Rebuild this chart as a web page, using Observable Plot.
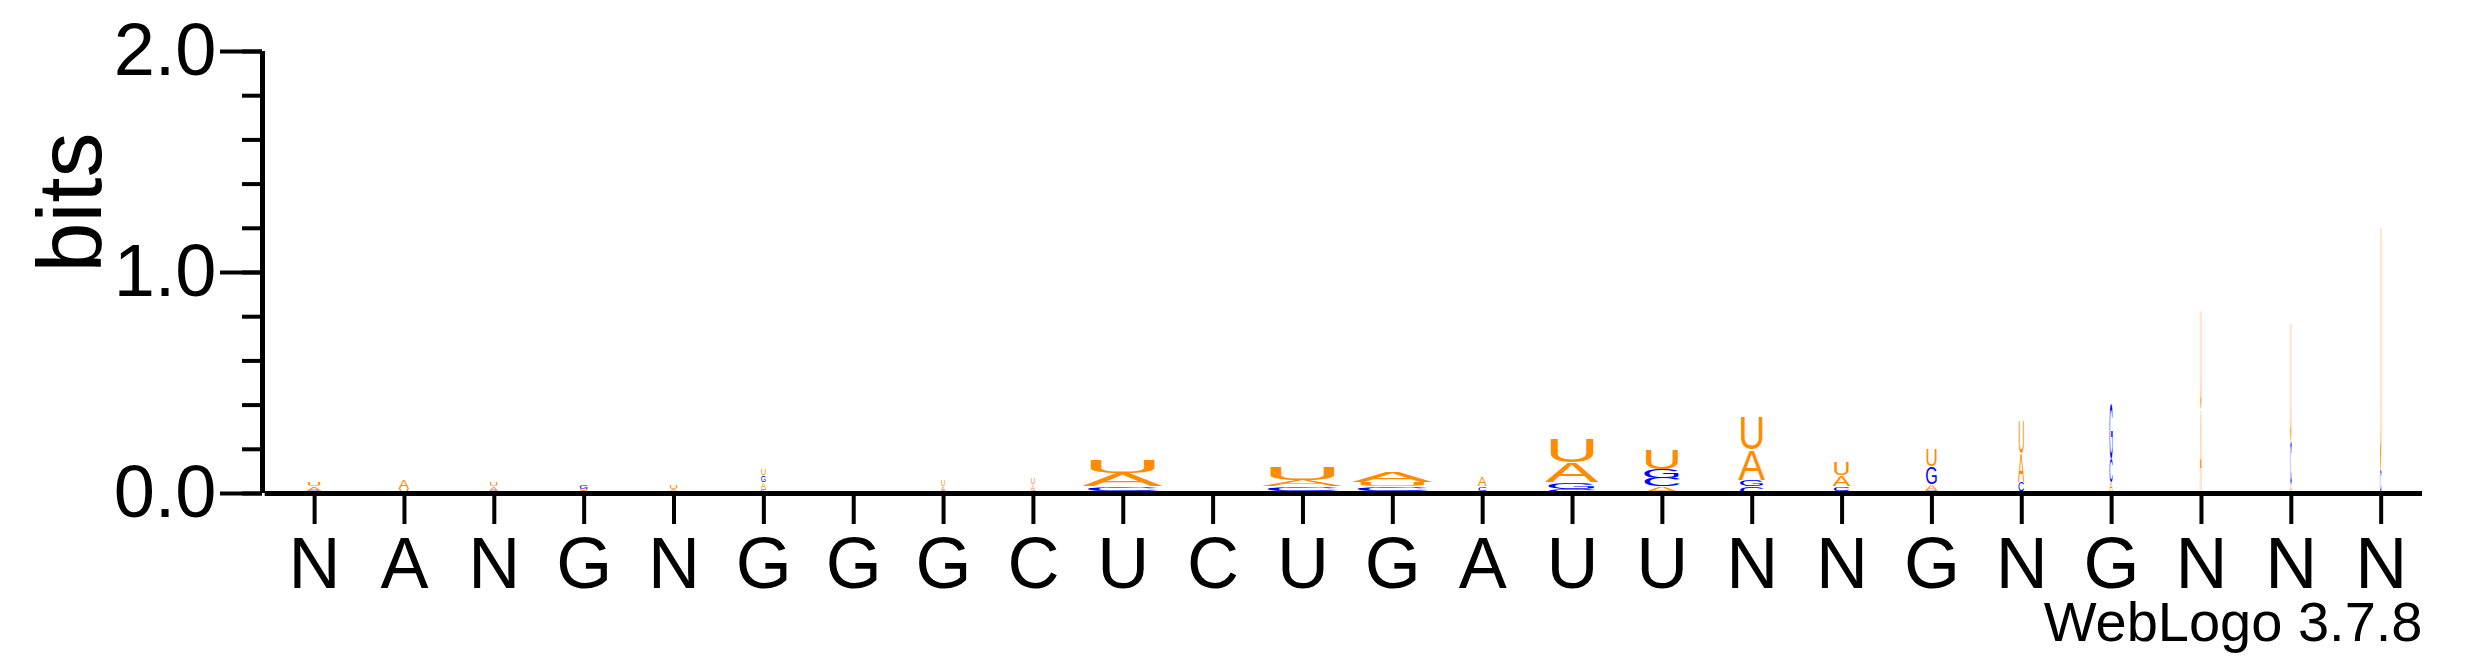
<!DOCTYPE html>
<html>
<head>
<meta charset="utf-8">
<script src="https://cdn.jsdelivr.net/npm/d3@7"></script>
<script src="https://cdn.jsdelivr.net/npm/@observablehq/plot@0.6"></script>
<style>
  body { margin: 0; background: #fff; }
  svg { font-family: "Liberation Sans", Arial, sans-serif; }
</style>
</head>
<body>
<div id="chart"></div>
<script>
// consensus labels under each position
const posLabels = ["N","A","N","G","N","G","G","G","C","U","C","U","G","A","U","U","N","N","G","N","G","N","N","N"];
// letter heights in bits, per position
const hA = [0.02,0.04,0.02,0.01,0.02,0.03,0.005,0.02,0.03,0.06,0.005,0.03,0.05,0.04,0.09,0.03,0.14,0.05,0.03,0.13,0.04,0.38,0.04,0.005];
const hC = [0,0,0,0,0,0.02,0,0.01,0.01,0.02,0,0.02,0.02,0.02,0.02,0.04,0.03,0.02,0.01,0.04,0.11,0,0.2,0.1];
const hG = [0.01,0,0.01,0.02,0,0.03,0,0,0,0.01,0,0.01,0.01,0,0.03,0.04,0.03,0.01,0.08,0.01,0.25,0.005,0,0];
const hU = [0.02,0.02,0.02,0.01,0.02,0.03,0,0.03,0.03,0.06,0.005,0.06,0.02,0.01,0.11,0.09,0.15,0.06,0.08,0.15,0.01,0.45,0.55,1.14];
// stack widths (fraction of one position)
const colWidth = [0.17,0.12,0.1,0.1,0.1,0.06,0.03,0.05,0.05,0.9,0.05,0.9,0.9,0.1,0.6,0.45,0.3,0.2,0.14,0.07,0.04,0.02,0.02,0.02];

const baseColor = {A: "#FF8C00", U: "#FF8C00", G: "#0000FF", C: "#0000FF"};

// stack each column smallest at the bottom, largest on top
const letters = [];
posLabels.forEach((_, i) => {
  const col = [["A", hA[i]], ["C", hC[i]], ["G", hG[i]], ["U", hU[i]]]
    .filter(d => d[1] > 0)
    .sort((a, b) => a[1] - b[1]);
  let y = 0;
  col.forEach(([b, h]) => {
    letters.push({pos: i + 1, base: b, y1: y, y2: y + h, w: colWidth[i]});
    y += h;
  });
});

const positions = posLabels.map((_, i) => i + 1);

const chart = Plot.plot({
  width: 2475,
  height: 667,
  marginTop: 51,
  marginBottom: 174,
  marginLeft: 262,
  marginRight: 53,
  x: {domain: [0.42, 24.46]},
  y: {domain: [0, 2]},
  style: {backgroundColor: "#fff", fontFamily: "Liberation Sans, Arial, sans-serif"},
  marks: [
    Plot.rect(letters, {
      x1: d => d.pos - d.w / 2, x2: d => d.pos + d.w / 2,
      y1: "y1", y2: "y2",
      fill: d => baseColor[d.base]
    }),
    Plot.axisY({ticks: d3.range(0, 2.01, 0.2), tickSize: 20, tickFormat: () => "", strokeWidth: 4, label: null}),
    Plot.axisY({ticks: [0, 1, 2], tickSize: 42, tickFormat: d3.format(".1f"), fontSize: 74, tickPadding: 4, strokeWidth: 4, label: null}),
    Plot.ruleX([0.42], {y1: 0, y2: 2, strokeWidth: 5}),
    Plot.ruleY([0], {x1: 0.45, x2: 24.46, strokeWidth: 5}),
    Plot.axisX({ticks: positions, tickFormat: d => posLabels[d - 1], tickSize: 31, fontSize: 72, tickPadding: 12, strokeWidth: 4, label: null}),
    Plot.text(["bits"], {frameAnchor: "left", rotate: -90, dx: -190, fontSize: 90}),
    Plot.text(["WebLogo 3.7.8"], {frameAnchor: "bottom-right", textAnchor: "end", lineAnchor: "middle", dy: 130, fontSize: 56})
  ]
});

document.getElementById("chart").append(chart);

// replace each rect by its letter, stretched to fill the rect
const ns = "http://www.w3.org/2000/svg";
const rects = chart.querySelectorAll('g[aria-label="rect"] rect');
rects.forEach((r, i) => {
  const d = letters[i];
  const x = +r.getAttribute("x"), y = +r.getAttribute("y");
  const w = Math.max(+r.getAttribute("width"), 1.5), h = +r.getAttribute("height");
  const t = document.createElementNS(ns, "text");
  t.textContent = d.base;
  t.setAttribute("font-size", 100);
  t.setAttribute("font-family", "Liberation Sans, Arial, sans-serif");
  t.setAttribute("fill", baseColor[d.base]);
  r.parentNode.appendChild(t);
  const bb = t.getBBox();
  const capH = 71.6;
  t.setAttribute("transform", `translate(${x - bb.x * w / bb.width},${y + h}) scale(${w / bb.width},${h / capH})`);
  r.remove();
});
</script>
</body>
</html>
